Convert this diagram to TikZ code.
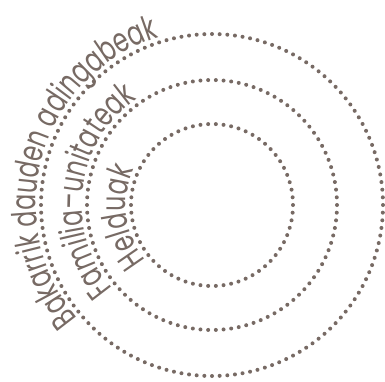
\documentclass[tikz,border=0pt]{standalone}
\usepackage{fontspec}
\setmainfont[FakeStretch=0.7]{Poppins}
\usetikzlibrary{decorations.text}
\definecolor{ringgray}{HTML}{776A64}
\tikzset{
  ringdot/.style={fill=ringgray},
  ringlabel/.style={decorate,decoration={text along path,text align=left,
    text color=ringgray,text={|\fontsize{34}{40}\selectfont|#1}}},
}
\begin{document}
\begin{tikzpicture}[x=1pt,y=1pt]
  \useasboundingbox (0,0) rectangle (385,381);
  \coordinate (c) at (212,176);

  % rings of dots
  \foreach \r/\n in {171/140,125/102,81/66}{
    \foreach \i in {1,...,\n}
      \fill[ringdot] ([shift={(360/\n*\i:\r)}]c) circle (2);
  }

  % labels on the left side of each ring
  \path[ringlabel={Bakarrik dauden adingabeak}]
    ([shift={(220:176)}]c) arc[start angle=220,end angle=40,radius=176];
  \path[ringlabel={Familia–unitateak}]
    ([shift={(220:130)}]c) arc[start angle=220,end angle=40,radius=130];
  \path[ringlabel={Helduak}]
    ([shift={(220:86)}]c) arc[start angle=220,end angle=90,radius=86];
\end{tikzpicture}
\end{document}
